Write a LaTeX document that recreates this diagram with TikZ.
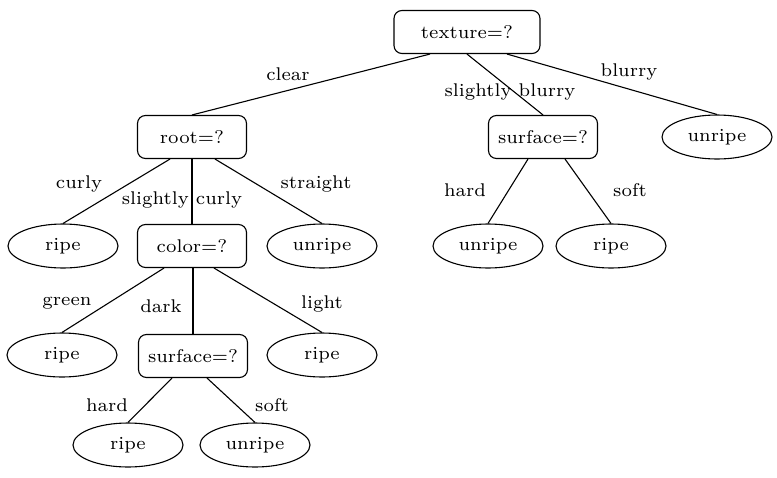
\documentclass[tikz,border=0pt]{standalone}
\usepackage{graphicx}
\usetikzlibrary{shapes.geometric}
\newcommand\tx[1]{\scalebox{2.63}{\fontsize{7}{8}\selectfont #1}}
\begin{document}
\begin{tikzpicture}[x=1pt,y=-1pt,line width=1.1pt,
  dbox/.style={draw,rounded corners=8pt,minimum width=109pt,minimum height=43pt,inner sep=0pt},
  leaf/.style={draw,ellipse,minimum width=110pt,minimum height=44pt,inner sep=0pt},
  lbl/.style={inner sep=0pt}]
\useasboundingbox (0,0) rectangle (777,477);
% decision nodes
\node[dbox,minimum width=146pt] (tex) at (467,32) {\tx{texture=?}};
\node[dbox] (root) at (192,137) {\tx{root=?}};
\node[dbox] (surfR) at (543,137) {\tx{surface=?}};
\node[dbox] (color) at (192,246) {\tx{color=?}};
\node[dbox] (surfL) at (193,356) {\tx{surface=?}};
% leaves
\node[leaf] (unripeTR) at (717,137) {\tx{unripe}};
\node[leaf] (ripeA) at (63,246) {\tx{ripe}};
\node[leaf] (unripeA) at (322,246) {\tx{unripe}};
\node[leaf] (unripeB) at (488,246) {\tx{unripe}};
\node[leaf] (ripeB) at (611,246) {\tx{ripe}};
\node[leaf] (ripeC) at (62,355) {\tx{ripe}};
\node[leaf] (ripeD) at (322,355) {\tx{ripe}};
\node[leaf] (ripeE) at (128,445) {\tx{ripe}};
\node[leaf] (unripeE) at (255,445) {\tx{unripe}};
% edges
\draw ([xshift=-37pt]tex.south) -- (root.north);
\draw (tex.south) -- (surfR.north);
\draw ([xshift=40pt]tex.south) -- (unripeTR.north);
\draw ([xshift=-22pt]root.south) -- (ripeA.north);
\draw (root.south) -- (color.north);
\draw ([xshift=23pt]root.south) -- (unripeA.north);
\draw ([xshift=-15pt]surfR.south) -- (unripeB.north);
\draw ([xshift=22pt]surfR.south) -- (ripeB.north);
\draw ([xshift=-28pt]color.south) -- (ripeC.north);
\draw ([xshift=1pt]color.south) -- (surfL.north);
\draw ([xshift=22pt]color.south) -- (ripeD.north);
\draw ([xshift=-21pt]surfL.south) -- (ripeE.north);
\draw ([xshift=14pt]surfL.south) -- (unripeE.north);
% labels
\node[lbl] (l1) at (288,74) {\tx{clear}};
\node[lbl] (l2) at (510,92) {\tx{slightly blurry}};
\node[lbl] (l3) at (629,72) {\tx{blurry}};
\node[lbl] (l4) at (79,184) {\tx{curly}};
\node[lbl] (l5) at (182,200) {\tx{slightly curly}};
\node[lbl] (l6) at (316,184) {\tx{straight}};
\node[lbl] (l7) at (465,190) {\tx{hard}};
\node[lbl] (l8) at (630,190) {\tx{soft}};
\node[lbl] (l9) at (67,303) {\tx{green}};
\node[lbl] (l10) at (161,306) {\tx{dark}};
\node[lbl] (l11) at (322,304) {\tx{light}};
\node[lbl] (l12) at (107,405) {\tx{hard}};
\node[lbl] (l13) at (272,405) {\tx{soft}};
\end{tikzpicture}
\end{document}
